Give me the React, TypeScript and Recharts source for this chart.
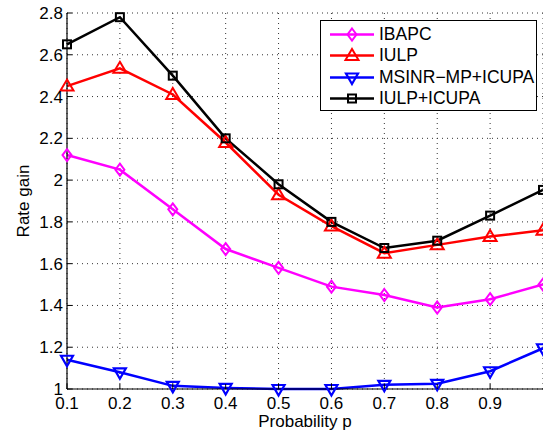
import React from 'react'
import { LineChart, Line, XAxis, YAxis, CartesianGrid, Legend } from 'recharts'

const probability = [0.1, 0.2, 0.3, 0.4, 0.5, 0.6, 0.7, 0.8, 0.9, 1.0]
const ibapc = [2.12, 2.05, 1.86, 1.67, 1.58, 1.49, 1.45, 1.39, 1.43, 1.5]
const iulp = [2.45, 2.535, 2.41, 2.18, 1.93, 1.78, 1.65, 1.69, 1.73, 1.76]
const msinr = [1.14, 1.08, 1.015, 1.005, 1.0, 1.0, 1.02, 1.025, 1.085, 1.195]
const iulpIcupa = [2.65, 2.78, 2.5, 2.2, 1.98, 1.8, 1.675, 1.71, 1.83, 1.953]

const xTicks = [0.1, 0.2, 0.3, 0.4, 0.5, 0.6, 0.7, 0.8, 0.9]
const yTicks = [1, 1.2, 1.4, 1.6, 1.8, 2, 2.2, 2.4, 2.6, 2.8]

const data = probability.map((p, i) => ({
  p,
  ibapc: ibapc[i],
  iulp: iulp[i],
  msinr: msinr[i],
  iulpIcupa: iulpIcupa[i],
}))

const FONT = 'Arial, "Liberation Sans", sans-serif'
const FS = 17
const LEGEND_FS = 17.5
const TICK_LEN = 5

// marker shapes (matlab-like, hollow)
function Marker({ kind, cx, cy, color }: { kind: string; cx: number; cy: number; color: string }) {
  if (kind === 'diamond') {
    return <polygon points={`${cx},${cy - 6} ${cx + 4.5},${cy} ${cx},${cy + 6} ${cx - 4.5},${cy}`} fill="none" stroke={color} strokeWidth={2} />
  }
  if (kind === 'up') {
    return <polygon points={`${cx},${cy - 6.5} ${cx + 6.5},${cy + 4.5} ${cx - 6.5},${cy + 4.5}`} fill="none" stroke={color} strokeWidth={2} />
  }
  if (kind === 'down') {
    return <polygon points={`${cx},${cy + 6.5} ${cx + 6},${cy - 4} ${cx - 6},${cy - 4}`} fill="none" stroke={color} strokeWidth={2.2} />
  }
  return <rect x={cx - 4} y={cy - 4} width={8} height={8} fill="none" stroke={color} strokeWidth={2} />
}

const series = [
  { key: 'ibapc', name: 'IBAPC', color: '#ff00ff', marker: 'diamond' },
  { key: 'iulp', name: 'IULP', color: '#ff0000', marker: 'up' },
  { key: 'msinr', name: 'MSINR\u2212MP+ICUPA', color: '#0000ff', marker: 'down' },
  { key: 'iulpIcupa', name: 'IULP+ICUPA', color: '#000000', marker: 'square' },
]

const BottomTick = (props: any) => {
  const { x, y, payload } = props
  return (
    <g>
      <line x1={x} y1={y} x2={x} y2={y - TICK_LEN} stroke="#000" />
      <text x={x} y={y + 19.5} textAnchor="middle" fontSize={FS} fontFamily={FONT} fill="#000">
        {payload.value}
      </text>
    </g>
  )
}

const LeftTick = (props: any) => {
  const { x, y, payload } = props
  return (
    <g>
      <line x1={x} y1={y} x2={x + TICK_LEN} y2={y} stroke="#000" />
      <text x={x - 4} y={y + 6} textAnchor="end" fontSize={FS} fontFamily={FONT} fill="#000">
        {payload.value}
      </text>
    </g>
  )
}

const TopTick = (props: any) => {
  const { x, y } = props
  return <line x1={x} y1={y} x2={x} y2={y + TICK_LEN} stroke="#000" />
}

const RightTick = (props: any) => {
  const { x, y } = props
  return <line x1={x} y1={y} x2={x - TICK_LEN} y2={y} stroke="#000" />
}

const LegendBox = () => (
  <div
    style={{
      border: '1px solid #000',
      background: '#fff',
      width: 215,
      height: 86,
      paddingTop: 3,
      boxSizing: 'content-box',
      fontFamily: FONT,
      fontSize: LEGEND_FS,
      color: '#000',
      whiteSpace: 'nowrap',
    }}
  >
    {series.map((s) => (
      <div key={s.key} style={{ display: 'flex', alignItems: 'center', height: 21.3 }}>
        <svg width={58} height={21} style={{ flex: 'none' }}>
          <line x1={9} y1={10.5} x2={53} y2={10.5} stroke={s.color} strokeWidth={2.5} />
          <Marker kind={s.marker} cx={31} cy={10.5} color={s.color} />
        </svg>
        <span style={{ lineHeight: '21px' }}>{s.name}</span>
      </div>
    ))}
  </div>
)

export default function App() {
  return (
    <div style={{ position: 'absolute', left: 0, top: 0, background: '#fff' }}>
      <LineChart width={543} height={431} data={data} margin={{ top: 13, right: 0, bottom: 0, left: 0 }}>
        <CartesianGrid stroke="#333" strokeDasharray="1 4" />
        <XAxis
          dataKey="p"
          type="number"
          domain={[0.1, 1.0]}
          ticks={xTicks}
          height={42}
          tickSize={0}
          tickMargin={0}
          tickLine={false}
          axisLine={{ stroke: '#000', strokeWidth: 1.2 }}
          tick={<BottomTick />}
          interval={0}
          label={(props: any) => {
            const vb = props.viewBox
            return (
              <text x={vb.x + vb.width / 2} y={vb.y + 38} textAnchor="middle" fontSize={FS} fontFamily={FONT} fill="#000">
                Probability p
              </text>
            )
          }}
        />
        <XAxis
          xAxisId="top"
          orientation="top"
          dataKey="p"
          type="number"
          domain={[0.1, 1.0]}
          ticks={xTicks}
          height={0}
          tickSize={0}
          tickMargin={0}
          tickLine={false}
          axisLine={{ stroke: '#000', strokeWidth: 1.2 }}
          tick={<TopTick />}
          interval={0}
        />
        <YAxis
          type="number"
          domain={[1, 2.8]}
          ticks={yTicks}
          width={67}
          tickSize={0}
          tickMargin={0}
          tickLine={false}
          axisLine={{ stroke: '#000', strokeWidth: 1.2 }}
          tick={<LeftTick />}
          interval={0}
          label={(props: any) => {
            const vb = props.viewBox
            const cx = vb.x + 28.5
            const cy = vb.y + vb.height / 2
            return (
              <text x={cx} y={cy} transform={`rotate(-90, ${cx}, ${cy})`} textAnchor="middle" fontSize={FS} fontFamily={FONT} fill="#000">
                Rate gain
              </text>
            )
          }}
        />
        <YAxis
          yAxisId="right"
          orientation="right"
          type="number"
          domain={[1, 2.8]}
          ticks={yTicks}
          width={0}
          tickSize={0}
          tickMargin={0}
          tickLine={false}
          axisLine={false}
          tick={<RightTick />}
          interval={0}
        />
        <Legend
          layout="vertical"
          align="center"
          verticalAlign="middle"
          content={<LegendBox />}
          wrapperStyle={{ left: 320, top: 20, width: 217, height: 90 }}
        />
        {series.map((s) => (
          <Line
            key={s.key}
            dataKey={s.key}
            name={s.name}
            stroke={s.color}
            strokeWidth={2.5}
            isAnimationActive={false}
            dot={(props: any) => (
              <Marker key={`${s.key}-${props.index}`} kind={s.marker} cx={props.cx} cy={props.cy} color={s.color} />
            )}
          />
        ))}
      </LineChart>
    </div>
  )
}
